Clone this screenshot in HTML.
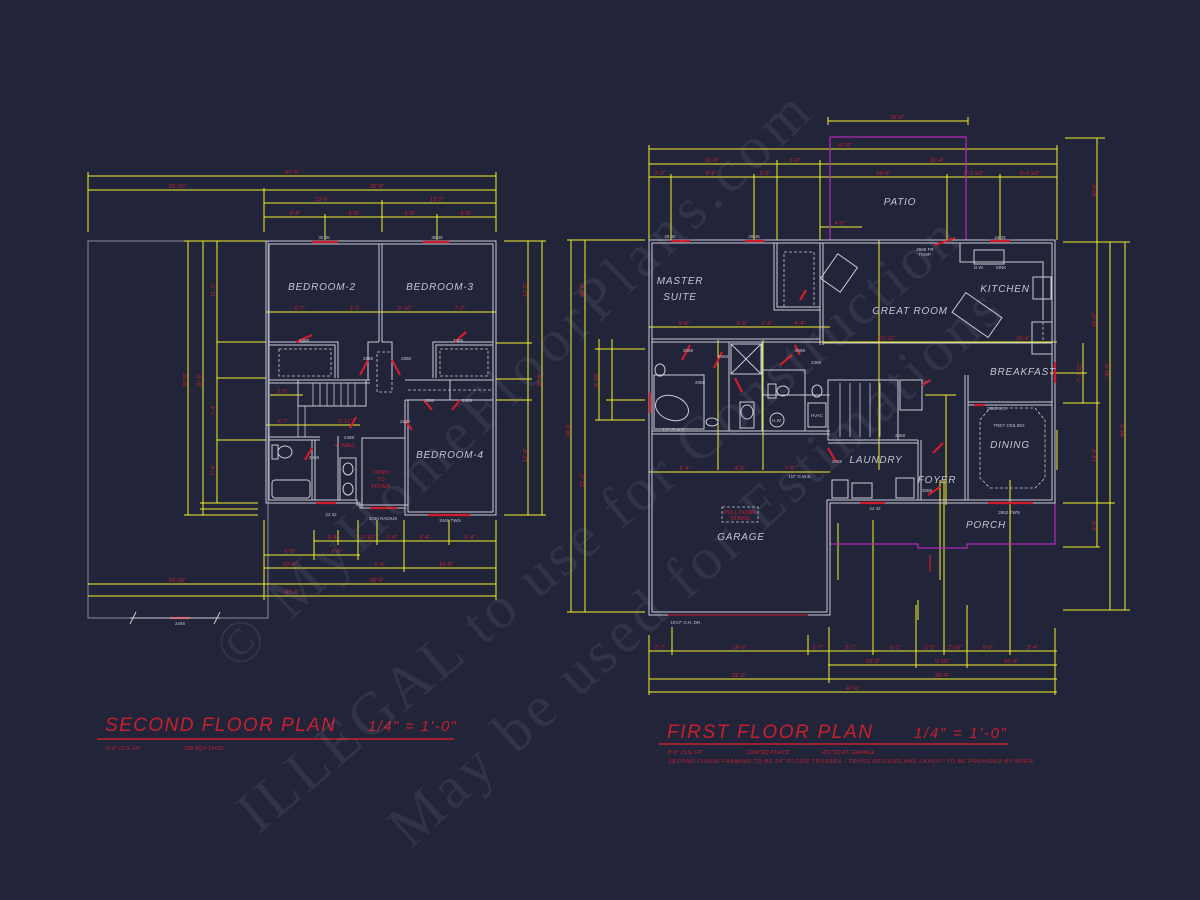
<!DOCTYPE html>
<html><head><meta charset="utf-8"><style>
html,body{margin:0;padding:0;background:#222539;}
svg{display:block}
.w{fill:none;stroke:#c9cad6;stroke-width:1}
.d{stroke:#f2f02c;stroke-width:1;fill:none}
.r{stroke:#d01c2c;stroke-width:2.2;fill:none}
.m{stroke:#b02ab8;stroke-width:1.2;fill:none}
.dt{font-family:"Liberation Sans",sans-serif;font-size:5.5px;fill:#c8202e;text-anchor:middle}
.lb{font-family:"Liberation Sans",sans-serif;font-size:10px;fill:#c3c4d2;text-anchor:middle;font-style:italic;letter-spacing:0.8px}
.sm{font-family:"Liberation Sans",sans-serif;font-size:4.5px;fill:#c3c4d2;text-anchor:middle}
.dash{fill:none;stroke:#c9cad6;stroke-width:0.8;stroke-dasharray:3 2}
.wm{font-family:"Liberation Serif",serif;font-size:60px;fill:#9a9cb0;fill-opacity:0.13}
.ti{font-family:"Liberation Sans",sans-serif;fill:#c8202e;font-style:italic}
</style></head><body>
<svg width="1200" height="900" viewBox="0 0 1200 900" xmlns="http://www.w3.org/2000/svg">
<rect width="1200" height="900" fill="#222539"/>

<!-- ============ SECOND FLOOR ============ -->
<rect x="88" y="241" width="180" height="377" fill="none" stroke="#8b8c9c" stroke-width="1"/>
<g class="d">
<line x1="88" y1="176" x2="496" y2="176"/>
<line x1="88" y1="190" x2="496" y2="190"/>
<line x1="264" y1="203" x2="496" y2="203"/>
<line x1="264" y1="217" x2="496" y2="217"/>
<line x1="88" y1="172" x2="88" y2="232"/><line x1="496" y1="172" x2="496" y2="232"/>
<line x1="264" y1="188" x2="264" y2="232"/><line x1="382" y1="200" x2="382" y2="232"/>
<line x1="325" y1="214" x2="325" y2="240"/><line x1="437" y1="214" x2="437" y2="240"/>
<line x1="314" y1="541" x2="496" y2="541"/>
<line x1="264" y1="555" x2="360" y2="555"/>
<line x1="264" y1="568" x2="496" y2="568"/>
<line x1="88" y1="584" x2="496" y2="584"/>
<line x1="88" y1="596" x2="496" y2="596"/>
<line x1="264" y1="520" x2="264" y2="600"/><line x1="496" y1="520" x2="496" y2="600"/>
<line x1="314" y1="530" x2="314" y2="560"/><line x1="358" y1="520" x2="358" y2="560"/>
<line x1="404" y1="520" x2="404" y2="572"/><line x1="449" y1="520" x2="449" y2="545"/>
<line x1="377" y1="520" x2="377" y2="545"/><line x1="338" y1="530" x2="338" y2="545"/>
<line x1="188" y1="241" x2="188" y2="515"/>
<line x1="203" y1="241" x2="203" y2="515"/>
<line x1="217" y1="241" x2="217" y2="503"/>
<line x1="184" y1="241" x2="266" y2="241"/>
<line x1="217" y1="342" x2="266" y2="342"/><line x1="217" y1="378" x2="266" y2="378"/>
<line x1="217" y1="440" x2="266" y2="440"/>
<line x1="200" y1="503" x2="258" y2="503"/><line x1="200" y1="509" x2="258" y2="509"/>
<line x1="184" y1="515" x2="258" y2="515"/>
<line x1="266" y1="312" x2="496" y2="312"/>
<line x1="270" y1="395" x2="303" y2="395"/>
<line x1="266" y1="425" x2="360" y2="425"/>
<line x1="528" y1="241" x2="528" y2="515"/>
<line x1="542" y1="241" x2="542" y2="515"/>
<line x1="504" y1="241" x2="546" y2="241"/><line x1="504" y1="515" x2="546" y2="515"/>
<line x1="496" y1="343" x2="532" y2="343"/><line x1="496" y1="379" x2="532" y2="379"/><line x1="496" y1="400" x2="532" y2="400"/>
</g>
<g>
<text class="dt" x="292" y="174">47'-6"</text>
<text class="dt" x="177" y="188">20'-10"</text><text class="dt" x="377" y="188">26'-8"</text>
<text class="dt" x="322" y="201">13'-6"</text><text class="dt" x="437" y="201">13'-2"</text>
<text class="dt" x="295" y="215">6'-8"</text><text class="dt" x="354" y="215">6'-6"</text><text class="dt" x="410" y="215">6'-6"</text><text class="dt" x="466" y="215">6'-6"</text>
<text class="dt" x="300" y="310">6'-7"</text><text class="dt" x="355" y="310">3'-2"</text><text class="dt" x="405" y="310">2'-10"</text><text class="dt" x="460" y="310">7'-2"</text>
<text class="dt" x="177" y="582">20'-10"</text><text class="dt" x="377" y="582">26'-8"</text>
<text class="dt" x="292" y="594">47'-6"</text>
<text class="dt" x="290" y="553">6'-8"</text><text class="dt" x="337" y="553">6'-8"</text>
<text class="dt" x="290" y="566">10'-8"</text><text class="dt" x="380" y="566">5'-4"</text><text class="dt" x="446" y="566">10'-8"</text>
<text class="dt" x="333" y="539">3'-8"</text><text class="dt" x="368" y="539">2'-10"</text><text class="dt" x="392" y="539">5'-6"</text><text class="dt" x="425" y="539">5'-4"</text><text class="dt" x="470" y="539">5'-4"</text>
<text class="dt" x="283" y="393">5'-5"</text><text class="dt" x="283" y="423">6'-7"</text><text class="dt" x="345" y="423">3'-11"</text>
<text class="dt" x="187" y="380" transform="rotate(-90 187 380)">30'-6"</text>
<text class="dt" x="201" y="380" transform="rotate(-90 201 380)">30'-6"</text>
<text class="dt" x="215" y="290" transform="rotate(-90 215 290)">11'-3"</text>
<text class="dt" x="215" y="410" transform="rotate(-90 215 410)">7'-4"</text>
<text class="dt" x="215" y="470" transform="rotate(-90 215 470)">7'-4"</text>
<text class="dt" x="527" y="290" transform="rotate(-90 527 290)">12'-0"</text>
<text class="dt" x="527" y="455" transform="rotate(-90 527 455)">12'-4"</text>
<text class="dt" x="541" y="380" transform="rotate(-90 541 380)">30'-6"</text>
</g>
<polygon class="w" points="266,241 496,241 496,515 405,515 405,508 360,508 360,503 266,503"/>
<polygon class="w" points="269,244 493,244 493,512 408,512 408,505 357,505 357,500 269,500"/>
<g class="w">
<line x1="379" y1="244" x2="379" y2="342"/><line x1="382" y1="244" x2="382" y2="342"/>
<polyline points="269,342 338,342 338,378"/><polyline points="269,345 335,345 335,378"/>
<polyline points="368,380 368,342 379,342"/><polyline points="392,380 392,342 382,342"/>
<polyline points="493,342 433,342 433,378"/><polyline points="493,345 436,345 436,378"/>
<line x1="269" y1="380" x2="370" y2="380"/><line x1="269" y1="383" x2="370" y2="383"/>
<rect x="298" y="380" width="68" height="26"/>
<line x1="269" y1="440" x2="320" y2="440"/><line x1="269" y1="437" x2="320" y2="437"/>
<line x1="312" y1="440" x2="312" y2="500"/><line x1="315" y1="440" x2="315" y2="500"/>
<line x1="338" y1="436" x2="338" y2="500"/>
<rect x="362" y="438" width="43" height="70"/>
<line x1="405" y1="400" x2="405" y2="505"/><line x1="408" y1="400" x2="408" y2="505"/>
<line x1="405" y1="380" x2="493" y2="380"/><line x1="405" y1="400" x2="493" y2="400"/>
<line x1="450" y1="380" x2="450" y2="400"/>
<rect x="272" y="480" width="38" height="18" rx="3"/>
<rect x="272" y="445" width="6" height="14"/><ellipse cx="285" cy="452" rx="7" ry="6"/>
<ellipse cx="348" cy="469" rx="5" ry="6"/><ellipse cx="348" cy="489" rx="5" ry="6"/>
<rect x="340" y="458" width="16" height="42"/>
</g>
<g stroke="#c9cad6" stroke-width="0.8">
<line x1="313" y1="383" x2="313" y2="406"/><line x1="320" y1="383" x2="320" y2="406"/><line x1="327" y1="383" x2="327" y2="406"/><line x1="334" y1="383" x2="334" y2="406"/><line x1="341" y1="383" x2="341" y2="406"/><line x1="348" y1="383" x2="348" y2="406"/><line x1="355" y1="383" x2="355" y2="406"/>
<line x1="298" y1="406" x2="298" y2="437"/><line x1="305" y1="406" x2="305" y2="437"/>
</g>
<rect class="dash" x="279" y="349" width="52" height="27"/><rect class="dash" x="440" y="349" width="48" height="27"/>
<rect class="dash" x="377" y="352" width="15" height="40"/>
<line class="dash" x1="408" y1="390" x2="493" y2="390"/>
<g class="r">
<line x1="312" y1="242" x2="338" y2="242"/><line x1="423" y1="242" x2="449" y2="242"/>
<line x1="296" y1="342" x2="312" y2="335"/><line x1="455" y1="342" x2="466" y2="332"/>
<line x1="368" y1="360" x2="360" y2="375"/><line x1="392" y1="360" x2="400" y2="375"/>
<line x1="424" y1="400" x2="432" y2="410"/><line x1="460" y1="400" x2="452" y2="410"/>
<line x1="405" y1="420" x2="412" y2="430"/><line x1="356" y1="417" x2="350" y2="428"/>
<line x1="312" y1="448" x2="305" y2="460"/>
<line x1="316" y1="503" x2="336" y2="503"/><line x1="370" y1="508" x2="397" y2="508"/>
<line x1="428" y1="515" x2="470" y2="515"/>
<line x1="170" y1="618" x2="190" y2="618"/>
</g>
<text class="dt" x="381" y="474">OPEN</text><text class="dt" x="381" y="481">TO</text><text class="dt" x="381" y="488">FOYER</text>
<text class="dt" x="345" y="447">4" WALL</text>
<text class="sm" x="324" y="239">30 46</text><text class="sm" x="437" y="239">30 46</text>
<text class="sm" x="304" y="342">2468</text><text class="sm" x="458" y="342">2468</text>
<text class="sm" x="368" y="360">2668</text><text class="sm" x="406" y="360">2668</text>
<text class="sm" x="429" y="402">2668</text><text class="sm" x="467" y="402">2668</text>
<text class="sm" x="405" y="423">2668</text><text class="sm" x="349" y="439">2468</text><text class="sm" x="314" y="459">2068</text>
<text class="sm" x="331" y="516">24 32</text><text class="sm" x="383" y="520">3046 RADIUS</text><text class="sm" x="450" y="522">2446 TWN</text>
<text class="sm" x="180" y="625">2446</text>
<line x1="130" y1="618" x2="220" y2="618" stroke="#c9cad6"/>
<line x1="130" y1="624" x2="136" y2="612" stroke="#c9cad6"/><line x1="214" y1="624" x2="220" y2="612" stroke="#c9cad6"/>
<text class="lb" x="322" y="290">BEDROOM-2</text>
<text class="lb" x="440" y="290">BEDROOM-3</text>
<text class="lb" x="450" y="458">BEDROOM-4</text>

<!-- ============ FIRST FLOOR ============ -->
<g class="d">
<line x1="828" y1="121" x2="968" y2="121"/>
<line x1="649" y1="149" x2="1057" y2="149"/>
<line x1="649" y1="164" x2="1057" y2="164"/>
<line x1="649" y1="177" x2="1057" y2="177"/>
<line x1="649" y1="145" x2="649" y2="240"/><line x1="1057" y1="145" x2="1057" y2="240"/>
<line x1="671" y1="174" x2="671" y2="240"/><line x1="754" y1="174" x2="754" y2="240"/><line x1="777" y1="160" x2="777" y2="240"/>
<line x1="820" y1="160" x2="820" y2="240"/><line x1="947" y1="174" x2="947" y2="240"/><line x1="1000" y1="174" x2="1000" y2="240"/>
<line x1="828" y1="117" x2="828" y2="125"/><line x1="968" y1="117" x2="968" y2="125"/>
<line x1="1065" y1="138" x2="1105" y2="138"/>
<line x1="820" y1="227" x2="862" y2="227"/>
<line x1="649" y1="651" x2="1057" y2="651"/>
<line x1="828" y1="665" x2="1057" y2="665"/>
<line x1="649" y1="679" x2="1057" y2="679"/>
<line x1="649" y1="692" x2="1057" y2="692"/>
<line x1="649" y1="635" x2="649" y2="695"/><line x1="1055" y1="628" x2="1055" y2="695"/>
<line x1="672" y1="627" x2="672" y2="655"/><line x1="808" y1="635" x2="808" y2="655"/><line x1="829" y1="627" x2="829" y2="683"/>
<line x1="873" y1="520" x2="873" y2="655"/><line x1="916" y1="605" x2="916" y2="668"/><line x1="944" y1="480" x2="944" y2="655"/>
<line x1="967" y1="605" x2="967" y2="668"/><line x1="1010" y1="480" x2="1010" y2="655"/>
<line x1="918" y1="600" x2="918" y2="620"/>
<line x1="571" y1="240" x2="571" y2="612"/><line x1="585" y1="240" x2="585" y2="612"/>
<line x1="599" y1="339" x2="599" y2="420"/><line x1="612" y1="339" x2="612" y2="420"/>
<line x1="567" y1="240" x2="645" y2="240"/><line x1="567" y1="612" x2="645" y2="612"/>
<line x1="595" y1="349" x2="645" y2="349"/><line x1="595" y1="420" x2="645" y2="420"/><line x1="606" y1="400" x2="645" y2="400"/>
<line x1="1097" y1="138" x2="1097" y2="547"/><line x1="1110" y1="242" x2="1110" y2="610"/><line x1="1125" y1="242" x2="1125" y2="610"/>
<line x1="1063" y1="242" x2="1130" y2="242"/><line x1="1063" y1="403" x2="1100" y2="403"/><line x1="1063" y1="503" x2="1115" y2="503"/>
<line x1="1063" y1="547" x2="1100" y2="547"/><line x1="1063" y1="610" x2="1130" y2="610"/>
<line x1="1083" y1="343" x2="1083" y2="403"/><line x1="1050" y1="373" x2="1087" y2="373"/>
<line x1="649" y1="327" x2="830" y2="327"/>
<line x1="820" y1="342" x2="1057" y2="342"/>
<line x1="649" y1="472" x2="830" y2="472"/>
<line x1="718" y1="340" x2="718" y2="470"/><line x1="763" y1="340" x2="763" y2="470"/><line x1="879" y1="240" x2="879" y2="470"/>
<line x1="946" y1="395" x2="946" y2="505"/><line x1="925" y1="395" x2="956" y2="395"/>
<line x1="1057" y1="430" x2="1057" y2="470"/>
<line x1="838" y1="523" x2="838" y2="580"/><line x1="940" y1="480" x2="940" y2="580"/>
</g>
<g>
<text class="dt" x="897" y="119">16'-0"</text>
<text class="dt" x="845" y="147">47'-6"</text>
<text class="dt" x="712" y="162">16'-0"</text><text class="dt" x="795" y="162">5'-2"</text><text class="dt" x="937" y="162">20'-4"</text>
<text class="dt" x="660" y="175">2'-0"</text><text class="dt" x="711" y="175">9'-8"</text><text class="dt" x="765" y="175">2'-8"</text><text class="dt" x="883" y="175">14'-8"</text><text class="dt" x="974" y="175">6'-3 1/2"</text><text class="dt" x="1030" y="175">6'-4 1/2"</text>
<text class="dt" x="840" y="225">4'-6"</text>
<text class="dt" x="660" y="649">2'-7"</text><text class="dt" x="740" y="649">16'-0"</text><text class="dt" x="818" y="649">2'-7"</text><text class="dt" x="851" y="649">5'-1"</text><text class="dt" x="895" y="649">5'-1"</text><text class="dt" x="930" y="649">3'-0"</text><text class="dt" x="955" y="649">2'-10"</text><text class="dt" x="988" y="649">5'-0"</text><text class="dt" x="1033" y="649">5'-4"</text>
<text class="dt" x="873" y="663">10'-2"</text><text class="dt" x="942" y="663">5'-10"</text><text class="dt" x="1011" y="663">10'-4"</text>
<text class="dt" x="739" y="677">21'-2"</text><text class="dt" x="942" y="677">26'-4"</text>
<text class="dt" x="853" y="690">47'-6"</text>
<text class="dt" x="684" y="325">6'-6"</text><text class="dt" x="742" y="325">3'-6"</text><text class="dt" x="767" y="325">2'-6"</text><text class="dt" x="800" y="325">4'-4"</text>
<text class="dt" x="887" y="340">21'-11"</text><text class="dt" x="1023" y="340">10'-4"</text>
<text class="dt" x="685" y="470">5'-4"</text><text class="dt" x="740" y="470">4'-2"</text><text class="dt" x="790" y="470">7'-6"</text>
<text class="dt" x="570" y="430" transform="rotate(-90 570 430)">34'-0"</text>
<text class="dt" x="584" y="290" transform="rotate(-90 584 290)">30'-0"</text>
<text class="dt" x="584" y="480" transform="rotate(-90 584 480)">21'-2"</text>
<text class="dt" x="598" y="380" transform="rotate(-90 598 380)">9'-10"</text>
<text class="dt" x="1096" y="190" transform="rotate(-90 1096 190)">10'-0"</text>
<text class="dt" x="1096" y="320" transform="rotate(-90 1096 320)">16'-0"</text>
<text class="dt" x="1096" y="455" transform="rotate(-90 1096 455)">13'-4"</text>
<text class="dt" x="1096" y="525" transform="rotate(-90 1096 525)">5'-0"</text>
<text class="dt" x="1109" y="370" transform="rotate(-90 1109 370)">30'-4"</text>
<text class="dt" x="1124" y="430" transform="rotate(-90 1124 430)">44'-4"</text>
<text class="dt" x="1081" y="372" transform="rotate(-90 1081 372)">7'-1 1/2"</text>
</g>
<polyline class="m" points="830,240 830,137 966,137 966,240"/>
<polyline class="m" points="830,503 830,544 918,544 918,548 967,548 967,544 1055,544 1055,503"/>
<polygon class="w" points="649,240 1055,240 1055,503 830,503 830,615 649,615"/>
<polygon class="w" points="652,243 1052,243 1052,500 827,500 827,612 652,612"/>
<g class="w">
<line x1="820" y1="243" x2="820" y2="345"/><line x1="823" y1="243" x2="823" y2="345"/>
<polyline points="774,243 774,310 820,310"/><polyline points="777,243 777,307 820,307"/>
<line x1="652" y1="339" x2="820" y2="339"/><line x1="652" y1="342" x2="820" y2="342"/>
<line x1="823" y1="343" x2="1052" y2="343"/>
<line x1="652" y1="431" x2="830" y2="431"/><line x1="652" y1="434" x2="830" y2="434"/>
<line x1="729" y1="342" x2="729" y2="431"/><line x1="762" y1="342" x2="762" y2="431"/><line x1="805" y1="370" x2="805" y2="431"/>
<line x1="762" y1="395" x2="830" y2="395"/><line x1="762" y1="370" x2="805" y2="370"/>
<rect x="731" y="344" width="30" height="30"/>
<line x1="731" y1="344" x2="761" y2="374"/><line x1="761" y1="344" x2="731" y2="374"/>
<rect x="828" y="380" width="70" height="60"/>
<line x1="828" y1="440" x2="918" y2="440"/><line x1="828" y1="443" x2="918" y2="443"/>
<line x1="918" y1="440" x2="918" y2="500"/><line x1="921" y1="440" x2="921" y2="500"/>
<line x1="965" y1="375" x2="965" y2="500"/><line x1="968" y1="375" x2="968" y2="500"/>
<line x1="968" y1="402" x2="1052" y2="402"/><line x1="968" y1="405" x2="1052" y2="405"/>
<rect x="900" y="380" width="22" height="30"/>
<polyline points="960,243 960,262 1043,262 1043,320"/>
<rect x="1033" y="277" width="18" height="22"/>
<rect x="1032" y="322" width="20" height="32"/>
<rect x="974" y="250" width="30" height="14"/>
<rect x="955" y="303" width="44" height="24" transform="rotate(35 977 315)"/>
<rect x="827" y="258" width="24" height="30" transform="rotate(35 839 273)"/>
<ellipse cx="672" cy="408" rx="17" ry="12" transform="rotate(20 672 408)"/>
<rect x="654" y="375" width="50" height="54"/>
<ellipse cx="660" cy="370" rx="5" ry="6"/>
<ellipse cx="712" cy="422" rx="6" ry="4"/>
<rect x="740" y="402" width="14" height="26"/><ellipse cx="747" cy="412" rx="6" ry="7"/>
<circle cx="777" cy="420" r="7"/><rect x="808" y="403" width="18" height="24"/>
<rect x="768" y="384" width="8" height="14"/><ellipse cx="783" cy="391" rx="6" ry="5"/>
<ellipse cx="817" cy="391" rx="5" ry="6"/>
<rect x="832" y="480" width="16" height="18"/><rect x="852" y="483" width="20" height="15"/><rect x="896" y="478" width="18" height="20"/>
</g>
<g stroke="#c9cad6" stroke-width="0.8">
<line x1="840" y1="383" x2="840" y2="437"/><line x1="850" y1="383" x2="850" y2="437"/><line x1="860" y1="383" x2="860" y2="437"/><line x1="870" y1="383" x2="870" y2="437"/><line x1="880" y1="383" x2="880" y2="437"/>
</g>
<polygon class="dash" points="990,408 1035,408 1045,420 1045,478 1035,488 990,488 980,478 980,420"/>
<rect class="dash" x="784" y="252" width="30" height="55"/>
<rect class="dash" x="722" y="507" width="36" height="15"/>
<line class="dash" x1="1043" y1="262" x2="1043" y2="340"/>
<g class="r">
<line x1="671" y1="241" x2="690" y2="241"/><line x1="745" y1="241" x2="764" y2="241"/>
<line x1="935" y1="245" x2="955" y2="238"/><line x1="990" y1="241" x2="1010" y2="241"/>
<line x1="668" y1="615" x2="808" y2="615" stroke-width="1"/>
<line x1="1055" y1="362" x2="1055" y2="383"/>
<line x1="988" y1="503" x2="1033" y2="503"/>
<line x1="650" y1="393" x2="650" y2="413"/>
<line x1="690" y1="345" x2="682" y2="360"/><line x1="722" y1="352" x2="714" y2="368"/><line x1="795" y1="345" x2="800" y2="355"/>
<line x1="780" y1="365" x2="792" y2="355"/><line x1="735" y1="378" x2="742" y2="392"/>
<line x1="828" y1="448" x2="836" y2="462"/><line x1="933" y1="453" x2="943" y2="443"/>
<line x1="928" y1="495" x2="940" y2="487"/><line x1="922" y1="385" x2="930" y2="380"/>
<line x1="974" y1="405" x2="985" y2="405"/><line x1="860" y1="503" x2="885" y2="503"/>
<line x1="930" y1="555" x2="930" y2="572" stroke-width="1.2"/>
<line x1="806" y1="290" x2="800" y2="300"/>
</g>
<text class="dt" x="740" y="514">PULL DOWN</text><text class="dt" x="740" y="520">STAIRS</text>
<text class="sm" x="670" y="238">28 46</text><text class="sm" x="754" y="238">28 46</text><text class="sm" x="1000" y="239">24 32</text>
<text class="sm" x="925" y="251">2668 FR</text><text class="sm" x="925" y="256">TEMP.</text>
<text class="sm" x="979" y="269">D.W.</text><text class="sm" x="1001" y="269">SINK</text>
<text class="sm" x="688" y="352">2668</text><text class="sm" x="723" y="358">2668</text><text class="sm" x="800" y="352">2668</text><text class="sm" x="816" y="364">2468</text>
<text class="sm" x="700" y="384">2068</text><text class="sm" x="777" y="422">H.W.</text><text class="sm" x="817" y="417">HVAC</text>
<text class="sm" x="674" y="431">1/2" G.W.B.</text><text class="sm" x="800" y="478">1/2" G.W.B.</text>
<text class="sm" x="686" y="624">16'x7' O.H. DR.</text>
<text class="sm" x="997" y="410">2668 B.O.</text><text class="sm" x="1009" y="427">TREY CEILING</text>
<text class="sm" x="875" y="510">24 32</text><text class="sm" x="1009" y="514">2862 TWN</text>
<text class="sm" x="900" y="437">2668</text><text class="sm" x="837" y="463">2668</text><text class="sm" x="927" y="492">3068</text>
<text class="lb" x="680" y="284">MASTER</text><text class="lb" x="680" y="300">SUITE</text>
<text class="lb" x="910" y="314">GREAT ROOM</text>
<text class="lb" x="1005" y="292">KITCHEN</text>
<text class="lb" x="1023" y="375">BREAKFAST</text>
<text class="lb" x="1010" y="448">DINING</text>
<text class="lb" x="876" y="463">LAUNDRY</text>
<text class="lb" x="937" y="483">FOYER</text>
<text class="lb" x="986" y="528">PORCH</text>
<text class="lb" x="741" y="540">GARAGE</text>
<text class="lb" x="900" y="205">PATIO</text>

<!-- titles -->
<text class="ti" x="105" y="731" font-size="19" letter-spacing="5" textLength="235" lengthAdjust="spacing">SECOND  FLOOR  PLAN</text>
<text class="ti" x="368" y="731" font-size="15" textLength="88">1/4" = 1'-0"</text>
<line x1="97" y1="739" x2="454" y2="739" stroke="#c8202e" stroke-width="1.6"/>
<text class="ti" x="106" y="750" font-size="5.5" font-style="normal">8'-0" CLG. HT.</text>
<text class="ti" x="184" y="750" font-size="5.5" font-style="normal">738 SQ.FT.HTD</text>

<text class="ti" x="667" y="738" font-size="19" letter-spacing="5" textLength="210" lengthAdjust="spacing">FIRST  FLOOR  PLAN</text>
<text class="ti" x="914" y="738" font-size="15" textLength="92">1/4" = 1'-0"</text>
<line x1="659" y1="744" x2="1008" y2="744" stroke="#c8202e" stroke-width="1.6"/>
<text class="ti" x="668" y="754" font-size="5.5" font-style="normal">8'-0" CLG. HT.</text>
<text class="ti" x="747" y="754" font-size="5.5" font-style="normal">1268 SQ.FT.HTD</text>
<text class="ti" x="822" y="754" font-size="5.5" font-style="normal">471 SQ.FT. GARAGE</text>
<text class="ti" x="668" y="763" font-size="5.5" font-style="normal" textLength="365">SECOND FLOOR FRAMING TO BE 14" FLOOR TRUSSES - TRUSS DESIGNS AND LAYOUT TO BE PROVIDED BY MFGR</text>

<!-- watermark -->
<text class="wm" x="0" y="0" transform="translate(238,672) rotate(-44)" textLength="800">© MyHomeFloorPlans.com</text>
<text class="wm" x="0" y="0" transform="translate(258,835) rotate(-40)" textLength="920">ILLEGAL to use for Construction</text>
<text class="wm" x="0" y="0" transform="translate(410,850) rotate(-42)" textLength="800">May be used for Estimations</text>
</svg>
</body></html>
